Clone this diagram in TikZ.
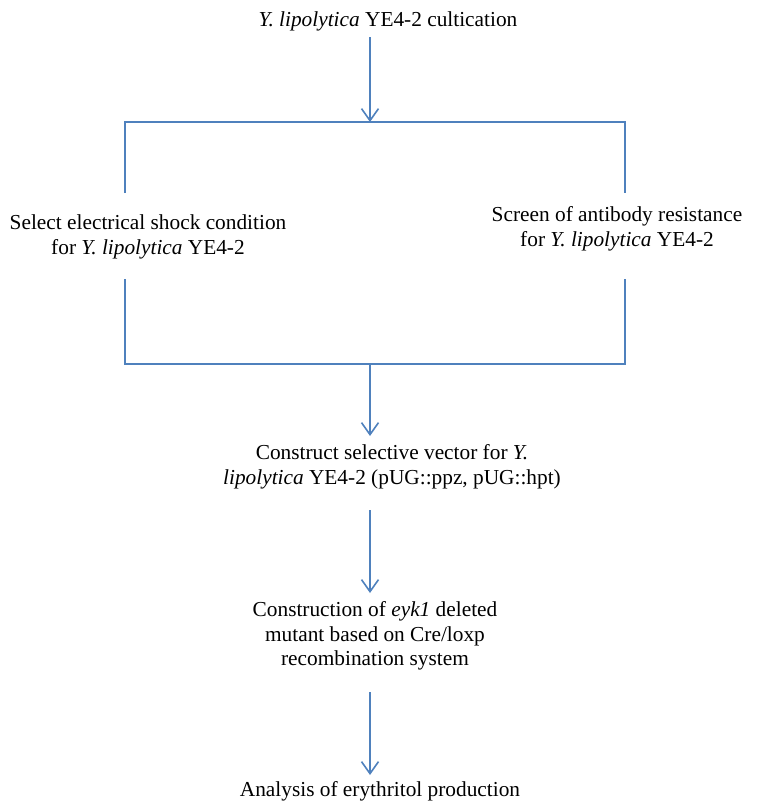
\documentclass[tikz,border=0pt]{standalone}
\usepackage{fontspec}
\setmainfont{Liberation Serif}
\usetikzlibrary{arrows.meta}
\definecolor{lineblue}{RGB}{79,129,189}
\tikzset{
  txt/.style={inner sep=0pt, align=center, font=\fontsize{21.33}{24.5}\selectfont},
  conn/.style={draw=lineblue, line width=1.6pt},
  arr/.style={conn, -{Straight Barb[length=12pt,width=17pt,line width=1.6pt]}}
}
\begin{document}
\begin{tikzpicture}[x=1pt,y=-1pt]
\useasboundingbox (0,0) rectangle (757,803);
\node[txt] (top) at (388,21) {\textit{Y. lipolytica} YE4-2 cultication};
\node[txt] (left) at (148,237) {Select electrical shock condition\\for \textit{Y. lipolytica} YE4-2};
\node[txt] (right) at (617,229) {Screen of antibody resistance\\for \textit{Y. lipolytica} YE4-2};
\node[txt] (vec) at (392,467) {Construct selective vector for \textit{Y.}\\\textit{lipolytica} YE4-2 (pUG::ppz, pUG::hpt)};
\node[txt] (mut) at (375,636) {Construction of \textit{eyk1} deleted\\mutant based on Cre/loxp\\recombination system};
\node[txt] (ana) at (380,791) {Analysis of erythritol production};
\coordinate (tj) at (370,122);
\coordinate (lt) at (125,122);
\coordinate (rt) at (625,122);
\coordinate (l1) at (125,193);
\coordinate (r1) at (625,193);
\coordinate (l2) at (125,279);
\coordinate (r2) at (625,279);
\coordinate (lb) at (125,364);
\coordinate (rb) at (625,364);
\coordinate (bj) at (370,364);
\coordinate (a1) at (370,37);
\coordinate (a2) at (370,436);
\coordinate (a3) at (370,510);
\coordinate (a4) at (370,593);
\coordinate (a5) at (370,692);
\coordinate (a6) at (370,775);
\draw[arr] (a1) -- (tj);
\draw[conn] (l1) -- (lt) -- (rt) -- (r1);
\draw[conn] (l2) -- (lb) -- (rb) -- (r2);
\draw[arr] (bj) -- (a2);
\draw[arr] (a3) -- (a4);
\draw[arr] (a5) -- (a6);
\end{tikzpicture}
\end{document}
